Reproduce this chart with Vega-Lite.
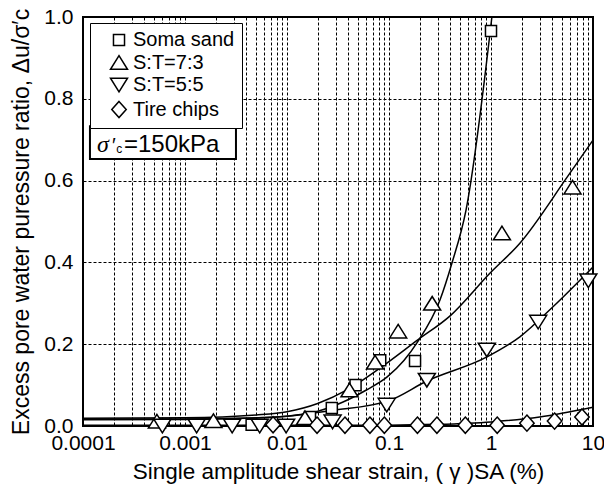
{
  "$schema": "https://vega.github.io/schema/vega-lite/v6.json",
  "width": 510,
  "height": 409,
  "autosize": {"type": "none"},
  "padding": {"left": 83, "top": 17, "right": 11, "bottom": 65},
  "config": {
    "font": "Liberation Sans",
    "view": {"stroke": "black", "strokeWidth": 2},
    "axis": {"labelFont": "Liberation Sans", "titleFont": "Liberation Sans", "labelColor": "black", "titleColor": "black", "titleFontWeight": "normal"}
  },
  "datasets": {
    "points": [
      {"series": "Soma sand", "strain": 0.0045, "ratio": 0.003},
      {"series": "Soma sand", "strain": 0.0168, "ratio": 0.022},
      {"series": "Soma sand", "strain": 0.0275, "ratio": 0.044},
      {"series": "Soma sand", "strain": 0.047, "ratio": 0.10},
      {"series": "Soma sand", "strain": 0.082, "ratio": 0.161},
      {"series": "Soma sand", "strain": 0.18, "ratio": 0.159},
      {"series": "Soma sand", "strain": 1.0, "ratio": 0.966},
      {"series": "S:T=7:3", "strain": 0.00053, "ratio": 0.012},
      {"series": "S:T=7:3", "strain": 0.0019, "ratio": 0.013},
      {"series": "S:T=7:3", "strain": 0.015, "ratio": 0.02},
      {"series": "S:T=7:3", "strain": 0.041, "ratio": 0.088},
      {"series": "S:T=7:3", "strain": 0.073, "ratio": 0.156},
      {"series": "S:T=7:3", "strain": 0.123, "ratio": 0.232},
      {"series": "S:T=7:3", "strain": 0.265, "ratio": 0.30},
      {"series": "S:T=7:3", "strain": 1.28, "ratio": 0.472},
      {"series": "S:T=7:3", "strain": 6.3, "ratio": 0.584},
      {"series": "S:T=5:5", "strain": 0.0006, "ratio": 0.0},
      {"series": "S:T=5:5", "strain": 0.0013, "ratio": 0.0},
      {"series": "S:T=5:5", "strain": 0.0029, "ratio": 0.0},
      {"series": "S:T=5:5", "strain": 0.0054, "ratio": 0.0},
      {"series": "S:T=5:5", "strain": 0.0098, "ratio": 0.0},
      {"series": "S:T=5:5", "strain": 0.028, "ratio": 0.01},
      {"series": "S:T=5:5", "strain": 0.095, "ratio": 0.051},
      {"series": "S:T=5:5", "strain": 0.235, "ratio": 0.112},
      {"series": "S:T=5:5", "strain": 0.91, "ratio": 0.186},
      {"series": "S:T=5:5", "strain": 2.9, "ratio": 0.254},
      {"series": "S:T=5:5", "strain": 9.0, "ratio": 0.355},
      {"series": "Tire chips", "strain": 0.0073, "ratio": 0.003},
      {"series": "Tire chips", "strain": 0.0197, "ratio": 0.002},
      {"series": "Tire chips", "strain": 0.037, "ratio": 0.002},
      {"series": "Tire chips", "strain": 0.065, "ratio": 0.002},
      {"series": "Tire chips", "strain": 0.09, "ratio": 0.002},
      {"series": "Tire chips", "strain": 0.19, "ratio": 0.002},
      {"series": "Tire chips", "strain": 0.295, "ratio": 0.002},
      {"series": "Tire chips", "strain": 0.56, "ratio": 0.002},
      {"series": "Tire chips", "strain": 1.15, "ratio": 0.002},
      {"series": "Tire chips", "strain": 2.25, "ratio": 0.007},
      {"series": "Tire chips", "strain": 4.2, "ratio": 0.012},
      {"series": "Tire chips", "strain": 7.8, "ratio": 0.022}
    ],
    "curves": [
      {"series": "Soma sand", "strain": 0.0001, "ratio": 0.017},
      {"series": "Soma sand", "strain": 0.001, "ratio": 0.017},
      {"series": "Soma sand", "strain": 0.004, "ratio": 0.019},
      {"series": "Soma sand", "strain": 0.01, "ratio": 0.024},
      {"series": "Soma sand", "strain": 0.02, "ratio": 0.036},
      {"series": "Soma sand", "strain": 0.035, "ratio": 0.058},
      {"series": "Soma sand", "strain": 0.06, "ratio": 0.088},
      {"series": "Soma sand", "strain": 0.096, "ratio": 0.12},
      {"series": "Soma sand", "strain": 0.14, "ratio": 0.16},
      {"series": "Soma sand", "strain": 0.19, "ratio": 0.205},
      {"series": "Soma sand", "strain": 0.316, "ratio": 0.308},
      {"series": "Soma sand", "strain": 0.415, "ratio": 0.399},
      {"series": "Soma sand", "strain": 0.569, "ratio": 0.528},
      {"series": "Soma sand", "strain": 1.02, "ratio": 1.0},
      {"series": "S:T=7:3", "strain": 0.0001, "ratio": 0.019},
      {"series": "S:T=7:3", "strain": 0.001, "ratio": 0.02},
      {"series": "S:T=7:3", "strain": 0.005, "ratio": 0.027},
      {"series": "S:T=7:3", "strain": 0.01, "ratio": 0.035},
      {"series": "S:T=7:3", "strain": 0.02, "ratio": 0.055},
      {"series": "S:T=7:3", "strain": 0.04, "ratio": 0.09},
      {"series": "S:T=7:3", "strain": 0.082, "ratio": 0.142},
      {"series": "S:T=7:3", "strain": 0.19, "ratio": 0.21},
      {"series": "S:T=7:3", "strain": 0.4, "ratio": 0.27},
      {"series": "S:T=7:3", "strain": 0.98, "ratio": 0.374},
      {"series": "S:T=7:3", "strain": 1.92, "ratio": 0.447},
      {"series": "S:T=7:3", "strain": 5.6, "ratio": 0.609},
      {"series": "S:T=7:3", "strain": 10, "ratio": 0.699},
      {"series": "S:T=5:5", "strain": 0.0001, "ratio": 0.015},
      {"series": "S:T=5:5", "strain": 0.001, "ratio": 0.016},
      {"series": "S:T=5:5", "strain": 0.005, "ratio": 0.02},
      {"series": "S:T=5:5", "strain": 0.01, "ratio": 0.024},
      {"series": "S:T=5:5", "strain": 0.0275, "ratio": 0.038},
      {"series": "S:T=5:5", "strain": 0.1, "ratio": 0.062},
      {"series": "S:T=5:5", "strain": 0.235, "ratio": 0.11},
      {"series": "S:T=5:5", "strain": 0.913, "ratio": 0.169},
      {"series": "S:T=5:5", "strain": 1.92, "ratio": 0.218},
      {"series": "S:T=5:5", "strain": 4.03, "ratio": 0.291},
      {"series": "S:T=5:5", "strain": 10, "ratio": 0.389},
      {"series": "Tire chips", "strain": 0.0001, "ratio": 0.002},
      {"series": "Tire chips", "strain": 0.1, "ratio": 0.002},
      {"series": "Tire chips", "strain": 0.3, "ratio": 0.004},
      {"series": "Tire chips", "strain": 1, "ratio": 0.01},
      {"series": "Tire chips", "strain": 3, "ratio": 0.022},
      {"series": "Tire chips", "strain": 10, "ratio": 0.046}
    ]
  },
  "layer": [
    {
      "data": {"name": "curves"},
      "mark": {"type": "line", "color": "black", "strokeWidth": 1.5, "interpolate": "monotone"},
      "encoding": {
        "x": {
          "field": "strain", "type": "quantitative",
          "scale": {"type": "log", "domain": [0.0001, 10], "nice": false},
          "axis": {
            "values": [0.0001, 0.0002, 0.0003, 0.0004, 0.0005, 0.0006, 0.0007, 0.0008, 0.0009, 0.001, 0.002, 0.003, 0.004, 0.005, 0.006, 0.007, 0.008, 0.009, 0.01, 0.02, 0.03, 0.04, 0.05, 0.06, 0.07, 0.08, 0.09, 0.1, 0.2, 0.3, 0.4, 0.5, 0.6, 0.7, 0.8, 0.9, 1, 2, 3, 4, 5, 6, 7, 8, 9, 10],
            "labelExpr": "indexof([0.0001, 0.001, 0.01, 0.1, 1, 10], datum.value) >= 0 ? format(datum.value, '~g') : ''",
            "labelOverlap": false,
            "labelFlush": false,
            "labelFontSize": 21,
            "labelPadding": 6,
            "ticks": false,
            "domain": false,
            "grid": true,
            "gridColor": "black",
            "gridDash": [3, 2],
            "gridWidth": 1,
            "title": "Single amplitude shear strain, ( γ )SA (%)",
            "titleFontSize": 22.5,
            "titlePadding": 7
          }
        },
        "y": {
          "field": "ratio", "type": "quantitative",
          "scale": {"domain": [0, 1], "nice": false},
          "axis": {
            "values": [0, 0.2, 0.4, 0.6, 0.8, 1.0],
            "format": ".1f",
            "labelFlush": false,
            "labelFontSize": 21,
            "labelPadding": 10,
            "ticks": false,
            "domain": false,
            "grid": true,
            "gridColor": "black",
            "gridDash": [3, 2],
            "gridWidth": 1,
            "title": "Excess pore water puressure ratio,  Δu/σ′c",
            "titleFontSize": 23,
            "titlePadding": 10
          }
        },
        "detail": {"field": "series"}
      }
    },
    {
      "data": {"values": [{}]},
      "mark": {"type": "rect", "fill": "white", "stroke": "black", "strokeWidth": 2},
      "encoding": {
        "x": {"datum": 0.000117, "type": "quantitative"},
        "x2": {"datum": 0.00316},
        "y": {"datum": 0.653, "type": "quantitative"},
        "y2": {"datum": 0.733}
      }
    },
    {
      "data": {"values": [{}]},
      "mark": {"type": "text", "text": "σ", "fontSize": 24, "fontStyle": "italic", "align": "left", "baseline": "alphabetic", "font": "Liberation Serif"},
      "encoding": {"x": {"datum": 0.000137, "type": "quantitative"}, "y": {"datum": 0.670, "type": "quantitative"}}
    },
    {
      "data": {"values": [{}]},
      "mark": {"type": "text", "text": "′", "fontSize": 20, "align": "left", "baseline": "alphabetic"},
      "encoding": {"x": {"datum": 0.000192, "type": "quantitative"}, "y": {"datum": 0.670, "type": "quantitative"}}
    },
    {
      "data": {"values": [{}]},
      "mark": {"type": "text", "text": "c", "fontSize": 12, "align": "left", "baseline": "alphabetic"},
      "encoding": {"x": {"datum": 0.000212, "type": "quantitative"}, "y": {"datum": 0.668, "type": "quantitative"}}
    },
    {
      "data": {"values": [{}]},
      "mark": {"type": "text", "text": "=150kPa", "fontSize": 24, "align": "left", "baseline": "alphabetic"},
      "encoding": {"x": {"datum": 0.000252, "type": "quantitative"}, "y": {"datum": 0.670, "type": "quantitative"}}
    },
    {
      "data": {"name": "points"},
      "mark": {"type": "point", "filled": true, "fill": "white", "stroke": "black", "strokeWidth": 1.5, "opacity": 1, "size": 289, "clip": false},
      "encoding": {
        "x": {"field": "strain", "type": "quantitative"},
        "y": {"field": "ratio", "type": "quantitative"},
        "shape": {
          "field": "series", "type": "nominal",
          "scale": {
            "domain": ["Soma sand", "S:T=7:3", "S:T=5:5", "Tire chips"],
            "range": ["M-0.65,-0.65L0.65,-0.65L0.65,0.65L-0.65,0.65Z", "M0,-0.8L1,0.8L-1,0.8Z", "M0,0.8L1,-0.8L-1,-0.8Z", "M0,-0.95L0.85,0L0,0.95L-0.85,0Z"]
          },
          "legend": {
            "orient": "none", "legendX": 7, "legendY": 6,
            "title": null,
            "padding": 7,
            "strokeColor": "black", "fillColor": "white",
            "labelFontSize": 20, "labelColor": "black", "labelOffset": 4,
            "symbolOffset": 12,
            "symbolSize": 289,
            "rowPadding": 2.5,
            "encode": {
              "symbols": {
                "update": {
                  "fill": {"value": "white"},
                  "stroke": {"value": "black"},
                  "strokeWidth": {"value": 1.5},
                  "opacity": {"value": 1}
                }
              }
            }
          }
        }
      }
    }
  ]
}
